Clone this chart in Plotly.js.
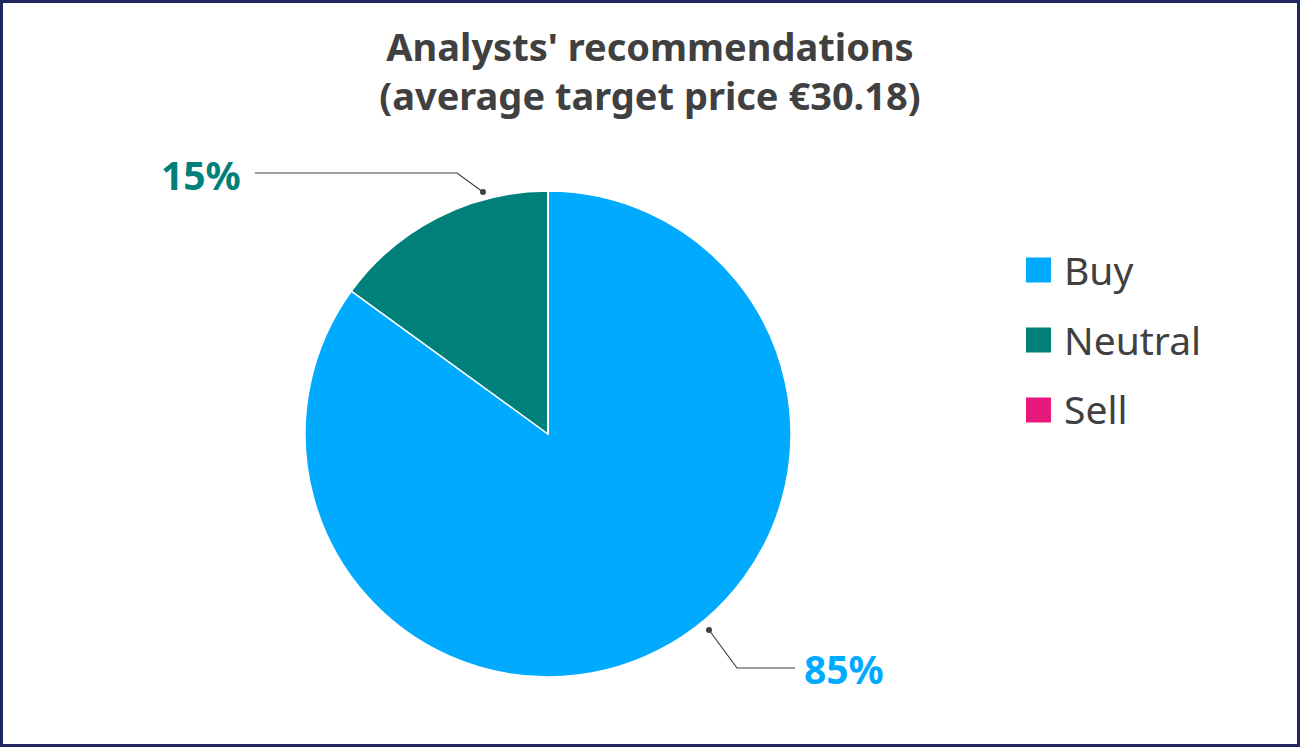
<!DOCTYPE html>
<html>
<head>
<meta charset="utf-8">
<script src="https://cdn.plot.ly/plotly-3.0.1.min.js"></script>
<style>
  html, body { margin: 0; padding: 0; background: #fff; }
  #frame { width: 1300px; height: 747px; box-sizing: border-box; border: 3px solid #1f2761; }
  #chart { width: 1294px; height: 741px; }
</style>
</head>
<body>
<div id="frame"><div id="chart"></div></div>
<script>
const categories = ['Buy', 'Neutral', 'Sell'];
const shares = [85, 15, 0];
const colors = ['#00aaff', '#00807a', '#e8197d'];
const titleText = "Analysts' recommendations<br>(average target price €30.18)";

// frame is 3px, so page pixels -> paper coords of the inner plot
const W = 1294, H = 741;
const px = x => (x - 3) / W;
const py = y => 1 - (y - 3) / H;

const total = shares.reduce((a, b) => a + b, 0);
const pct = v => Math.round(v / total * 100) + '%';

// label placement (page pixels): dot, elbow, line end, text anchor
const callouts = [
    { i: 0, dot: [709, 630], elbow: [737, 668], end: [795, 668], text: [802, 668], anchor: 'left' },
    { i: 1, dot: [483, 192], elbow: [457, 173], end: [255, 173], text: [243, 175], anchor: 'right' }
];

const shapes = [];
const annotations = [];

callouts.forEach(c => {
    shapes.push({
        type: 'path', xref: 'paper', yref: 'paper',
        path: `M${px(c.dot[0])},${py(c.dot[1])} L${px(c.elbow[0])},${py(c.elbow[1])} L${px(c.end[0])},${py(c.end[1])}`,
        line: { color: '#404040', width: 1.2 }
    });
    shapes.push({
        type: 'circle', xref: 'paper', yref: 'paper',
        x0: px(c.dot[0] - 3), x1: px(c.dot[0] + 3),
        y0: py(c.dot[1] + 3), y1: py(c.dot[1] - 3),
        fillcolor: '#404040', line: { width: 0 }
    });
    annotations.push({
        xref: 'paper', yref: 'paper',
        x: px(c.text[0]), y: py(c.text[1]),
        xanchor: c.anchor, yanchor: 'middle',
        text: pct(shares[c.i]), showarrow: false,
        font: { family: 'Noto Sans', size: 39, weight: 700, color: colors[c.i] }
    });
});

// legend with big square keys
categories.forEach((name, k) => {
    const cy = 270 + k * 70;
    shapes.push({
        type: 'rect', xref: 'paper', yref: 'paper',
        x0: px(1026), x1: px(1051), y0: py(cy + 12.5), y1: py(cy - 12.5),
        fillcolor: colors[k], line: { width: 0 }
    });
    annotations.push({
        xref: 'paper', yref: 'paper',
        x: px(1062), y: py(cy - 1),
        xanchor: 'left', yanchor: 'middle',
        text: name, showarrow: false,
        font: { family: 'Noto Sans', size: 39, color: '#404040' }
    });
});

const trace = {
    type: 'pie',
    labels: categories,
    values: shares,
    sort: false,
    direction: 'clockwise',
    rotation: 0,
    marker: { colors: colors, line: { color: '#ffffff', width: 1.5 } },
    textinfo: 'none',
    hoverinfo: 'label+percent',
    showlegend: false,
    domain: { x: [px(305), px(791)], y: [py(677), py(191)] }
};

const layout = {
    width: W,
    height: H,
    paper_bgcolor: '#ffffff',
    margin: { t: 0, b: 0, l: 0, r: 0 },
    title: {
        text: titleText,
        x: 0.5, xanchor: 'center',
        y: py(61), yanchor: 'top', yref: 'paper',
        font: { family: 'Noto Sans', size: 38, weight: 700, color: '#404040' }
    },
    showlegend: false,
    shapes: shapes,
    annotations: annotations
};

Plotly.newPlot('chart', [trace], layout, { displayModeBar: false, responsive: false });
</script>
</body>
</html>
